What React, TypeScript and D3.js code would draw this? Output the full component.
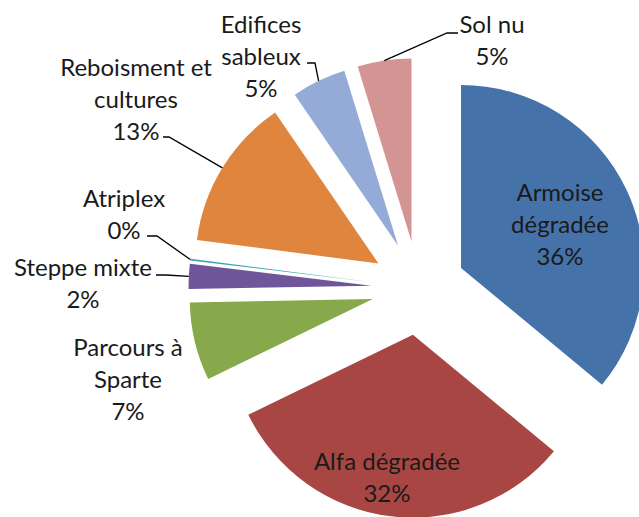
import React from 'react';
import * as d3 from 'd3';

const categories = [
  'Armoise dégradée',
  'Alfa dégradée',
  'Parcours à Sparte',
  'Steppe mixte',
  'Atriplex',
  'Reboisment et cultures',
  'Edifices sableux',
  'Sol nu',
];
const values = [36.0, 31.8, 6.9, 2.2, 0.15, 13.4, 4.8, 4.75];
const labelLines = [
  ['Armoise', 'dégradée'],
  ['Alfa dégradée'],
  ['Parcours à', 'Sparte'],
  ['Steppe mixte'],
  ['Atriplex'],
  ['Reboisment et', 'cultures'],
  ['Edifices', 'sableux'],
  ['Sol nu'],
];
const colors = ['#4672AA', '#A84643', '#87A84B', '#6F569A', '#3FA3B8', '#E0853E', '#93ABD6', '#D39493'];

// layout (not data)
const W = 639, H = 517;
const CX = 418.5, CY = 288, R = 183, EXPLODE = 47;
const labelPos: [number, number][] = [
  [560, 193], [387, 462], [128, 348], [83, 268], [124, 199], [136, 68], [261, 25], [492, 25],
];
// leader: [endX, endY, kneeX, kneeY] or null
const leaders: ([number, number, number, number] | null)[] = [
  null, null, null,
  [156, 275, 166, 275],
  [147, 236, 157, 236],
  [163, 137, 169, 137],
  [307, 63, 315, 63],
  [458, 33, 447, 33],
];

const LINE_H = 32;
const FONT = 'Lato, "Open Sans", sans-serif';
const FS = 24;

export default function App() {
  const total = d3.sum(values);
  const pie = d3.pie<number>().sort(null).value(d => d).startAngle(0).endAngle(2 * Math.PI);
  const arcs = pie(values);
  const arc = d3.arc<d3.PieArcDatum<number>>().innerRadius(0).outerRadius(R);

  return (
    <div style={{ position: 'absolute', left: 0, top: 0 }}>
      <svg width={W} height={H} style={{ display: 'block', background: '#fff' }}>
        {arcs.map((a, i) => {
          const mid = (a.startAngle + a.endAngle) / 2;
          const ox = EXPLODE * Math.sin(mid);
          const oy = -EXPLODE * Math.cos(mid);
          return (
            <path key={i} d={arc(a) || ''} fill={colors[i]} transform={`translate(${CX + ox},${CY + oy})`} />
          );
        })}
        {arcs.map((a, i) => {
          const L = leaders[i];
          if (!L) return null;
          const mid = (a.startAngle + a.endAngle) / 2;
          const px = CX + (EXPLODE + R) * Math.sin(mid);
          const py = CY - (EXPLODE + R) * Math.cos(mid);
          return (
            <polyline key={'l' + i} points={`${L[0]},${L[1]} ${L[2]},${L[3]} ${px},${py}`} fill="none" stroke="#000" strokeWidth={1.3} />
          );
        })}
        {arcs.map((a, i) => {
          const lines = [...labelLines[i], Math.round((values[i] / total) * 100) + '%'];
          const [x, y] = labelPos[i];
          return (
            <text key={'t' + i} x={x} y={y} textAnchor="middle" fontFamily={FONT} fontSize={FS} fill="#1a1a1a">
              {lines.map((ln, j) => (
                <tspan key={j} x={x} y={y + j * LINE_H} dy="0.35em">{ln}</tspan>
              ))}
            </text>
          );
        })}
      </svg>
    </div>
  );
}
